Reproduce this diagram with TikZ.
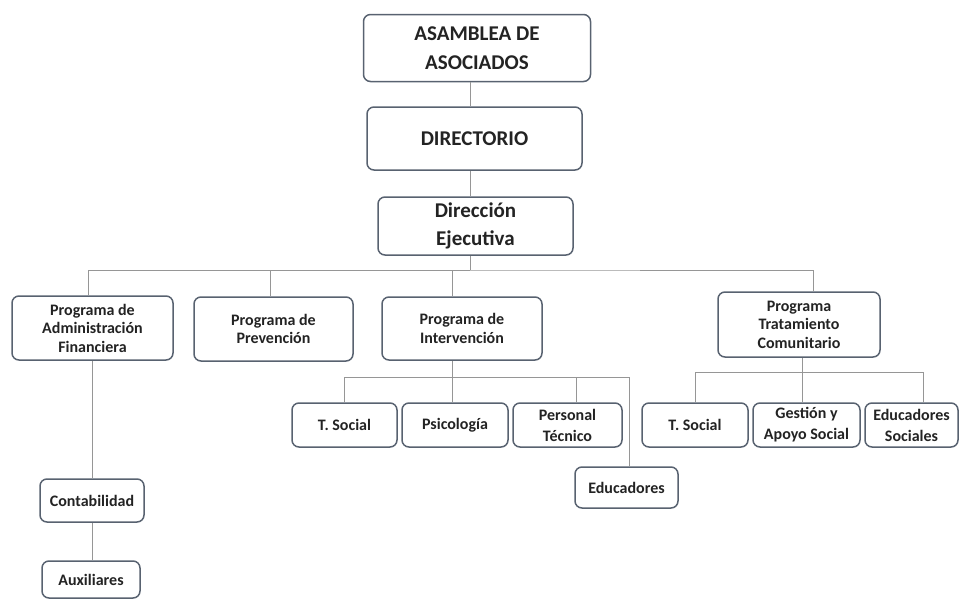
\documentclass[tikz,border=0pt]{standalone}
\usepackage{fontspec}
\setmainfont{Carlito}
\definecolor{boxline}{RGB}{88,98,112}
\definecolor{linkgray}{RGB}{150,150,150}
\definecolor{txt}{RGB}{35,35,35}
\tikzset{
	box/.style={draw=boxline, line width=1.5pt, rounded corners=7pt, fill=white, align=center, text=txt, inner sep=0pt, font=\bfseries\fontsize{16}{18.5}\selectfont},
	subbox/.style={box, font=\bfseries\fontsize{16}{21}\selectfont},
	bigbox/.style={box, font=\bfseries\fontsize{21}{29}\selectfont},
	link/.style={draw=linkgray, line width=0.9pt},
}

\begin{document}
\begin{tikzpicture}[x=1pt, y=-1pt]
		%%%%% START %%%%%
		\useasboundingbox (0, 0) rectangle (961, 600);
		
		\node[bigbox, minimum width=227pt, minimum height=67pt] (asamblea) at (477, 48) {ASAMBLEA DE\\ASOCIADOS};
		\node[bigbox, minimum width=215pt, minimum height=63pt] (directorio) at (474.5, 138.5) {DIRECTORIO};
		\node[bigbox, minimum width=195pt, minimum height=58pt, font=\bfseries\fontsize{21}{28}\selectfont] (direccion) at (475.5, 226) {Dirección\\Ejecutiva};
		
		\node[box, minimum width=161pt, minimum height=64pt] (admin) at (92.5, 328) {Programa de\\Administración\\Financiera};
		\node[box, minimum width=159pt, minimum height=64pt] (prev) at (273.5, 329) {Programa de\\Prevención};
		\node[box, minimum width=160pt, minimum height=63pt] (interv) at (462, 328.5) {Programa de\\Intervención};
		\node[box, minimum width=162pt, minimum height=65pt] (trat) at (799, 324.5) {Programa\\Tratamiento\\Comunitario};
		
		\node[subbox, minimum width=105pt, minimum height=44pt] (isocial) at (344.5, 425) {T. Social};
		\node[subbox, minimum width=106pt, minimum height=44pt] (psico) at (455, 425) {Psicología};
		\node[subbox, minimum width=109pt, minimum height=44pt] (ptec) at (567.5, 425) {Personal\\Técnico};
		\node[subbox, minimum width=103pt, minimum height=41pt] (educ) at (626.5, 487.5) {Educadores};
		
		\node[subbox, minimum width=106pt, minimum height=44pt] (tsocial) at (695, 425) {T. Social};
		\node[subbox, minimum width=107pt, minimum height=44pt] (gestion) at (806.5, 425) {Gestión y\\Apoyo Social};
		\node[subbox, minimum width=93pt, minimum height=44pt] (edsoc) at (911.5, 425) {Educadores\\Sociales};
		
		\node[subbox, minimum width=104pt, minimum height=43pt] (conta) at (92, 500.5) {Contabilidad};
		\node[subbox, minimum width=98pt, minimum height=37pt] (aux) at (91, 579.5) {Auxiliares};
		
		\coordinate (bus) at (470, 270);
		\coordinate (iv) at (452, 377);
		\coordinate (tv) at (802, 372);
		
		\draw[link] (asamblea.south -| bus) -- (directorio.north -| bus);
		\draw[link] (directorio.south -| bus) -- (direccion.north -| bus);
		\draw[link] (direccion.south -| bus) -- (bus);
		
		\draw[link] ([xshift=-4.5pt]admin.north) |- (bus) -| ([xshift=14pt]trat.north);
		\draw[link] ([xshift=-3.5pt]prev.north) |- (bus);
		\draw[link] ([xshift=-10pt]interv.north) |- (bus);
		
		\draw[link] ([xshift=-10pt]interv.south) -- (iv);
		\draw[link] (isocial.north) |- (iv);
		\draw[link] ([xshift=-3pt]psico.north) |- (iv);
		\draw[link] ([xshift=8.5pt]ptec.north) |- (iv);
		\draw[link] ([xshift=2.5pt]educ.north) |- (iv);
		
		\draw[link] ([xshift=3pt]trat.south) -- (tv);
		\draw[link] (tsocial.north) |- (tv);
		\draw[link] ([xshift=-4.5pt]gestion.north) |- (tv);
		\draw[link] ([xshift=11.5pt]edsoc.north) |- (tv);
		
		\draw[link] (admin.south -| conta.north) -- (conta.north);
		\draw[link] (conta.south) -- (aux.north -| conta.south);
		
		%%%%% END %%%%%
	\end{tikzpicture}
\end{document}
